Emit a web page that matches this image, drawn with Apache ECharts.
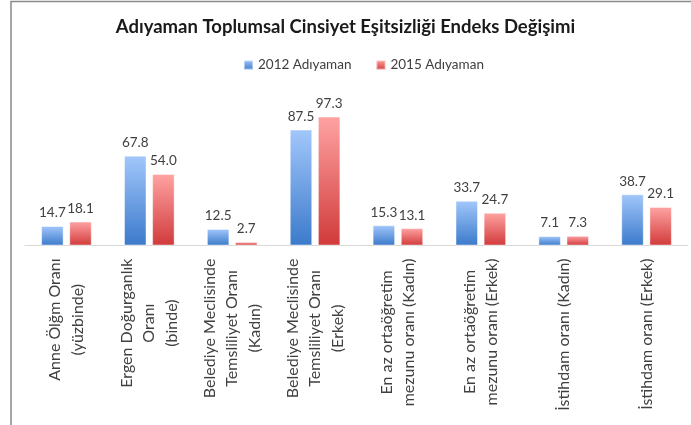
<!DOCTYPE html>
<html lang="tr">

<head>
    <meta charset="UTF-8">
    <script src="https://cdn.jsdelivr.net/npm/echarts@6/dist/echarts.min.js"></script>
    <title>Adıyaman Toplumsal Cinsiyet Eşitsizliği Endeks Değişimi</title>
    <style>
        html, body {
            margin: 0;
            padding: 0;
            background-color: #ffffff;
        }

        #chart {
            width: 691px;
            height: 425px;
        }
    </style>
</head>

<body>
    <div id="chart"></div>

    <script>
        // veriler
        var categories = [
            'Anne Ölğm Oranı\n(yüzbinde)',
            'Ergen Doğurganlık\nOranı\n(binde)',
            'Belediye Meclisinde\nTemsliliyet Oranı\n(Kadın)',
            'Belediye Meclisinde\nTemsliliyet Oranı\n(Erkek)',
            'En az ortaöğretim\nmezunu oranı (Kadın)',
            'En az ortaöğretim\nmezunu oranı (Erkek)',
            'İstihdam oranı (Kadın)',
            'İstihdam oranı (Erkek)'
        ];
        var seriesNames = ['2012 Adıyaman', '2015 Adıyaman'];
        var values2012 = [14.7, 67.8, 12.5, 87.5, 15.3, 33.7, 7.1, 38.7];
        var values2015 = [18.1, 54.0, 2.7, 97.3, 13.1, 24.7, 7.3, 29.1];

        var FONT = 'Lato, "Open Sans", sans-serif';
        var TEXT = '#404040';

        function grad(top, bottom) {
            return new echarts.graphic.LinearGradient(0, 0, 0, 1, [
                { offset: 0, color: top },
                { offset: 1, color: bottom }
            ]);
        }

        function barSeries(name, data, top, bottom) {
            return {
                name: name,
                type: 'bar',
                data: data,
                barWidth: 22.5,
                barGap: '25%',
                itemStyle: {
                    color: grad(top, bottom),
                    borderColor: 'rgba(255,255,255,0.45)',
                    borderWidth: 1
                },
                label: {
                    show: true,
                    position: 'top',
                    distance: 6,
                    fontFamily: FONT,
                    fontSize: 13.5,
                    color: TEXT,
                    formatter: function (p) { return p.value.toFixed(1); }
                }
            };
        }

        var chart = echarts.init(document.getElementById('chart'), null, { renderer: 'canvas' });

        chart.setOption({
            animation: false,
            title: {
                text: 'Adıyaman Toplumsal Cinsiyet Eşitsizliği Endeks Değişimi',
                left: 'center',
                top: 13,
                textStyle: {
                    fontFamily: FONT,
                    fontSize: 18.5,
                    fontWeight: 'bold',
                    color: '#1a1a1a'
                }
            },
            legend: {
                data: seriesNames,
                top: 53,
                left: 238,
                icon: 'rect',
                itemWidth: 9,
                itemHeight: 9,
                itemGap: 24,
                textStyle: { fontFamily: FONT, fontSize: 13.5, color: TEXT }
            },
            graphic: [{
                type: 'rect',
                shape: { x: 11, y: 1.5, width: 800, height: 500 },
                style: { fill: 'none', stroke: '#8a8a8a', lineWidth: 1.5 },
                silent: true
            }],
            grid: { left: 25, right: 3, top: 113, bottom: 179.5 },
            xAxis: {
                type: 'category',
                data: categories,
                axisTick: { show: false },
                axisLine: { lineStyle: { color: '#d9d9d9' } },
                axisLabel: {
                    interval: 0,
                    rotate: 90,
                    margin: 13,
                    formatter: function (v) {
                        return v.split('\n').map(function (s) { return '{c|' + s + '}'; }).join('\n');
                    },
                    rich: {
                        c: {
                            fontFamily: FONT,
                            fontSize: 16,
                            lineHeight: 22.5,
                            color: TEXT,
                            align: 'center'
                        }
                    }
                }
            },
            yAxis: {
                type: 'value',
                min: 0,
                max: 100,
                show: false,
                splitLine: { show: false }
            },
            series: [
                barSeries(seriesNames[0], values2012, '#a2c7fb', '#3b7acb'),
                barSeries(seriesNames[1], values2015, '#ffa3a3', '#d13a3a')
            ]
        });
    </script>
</body>

</html>
